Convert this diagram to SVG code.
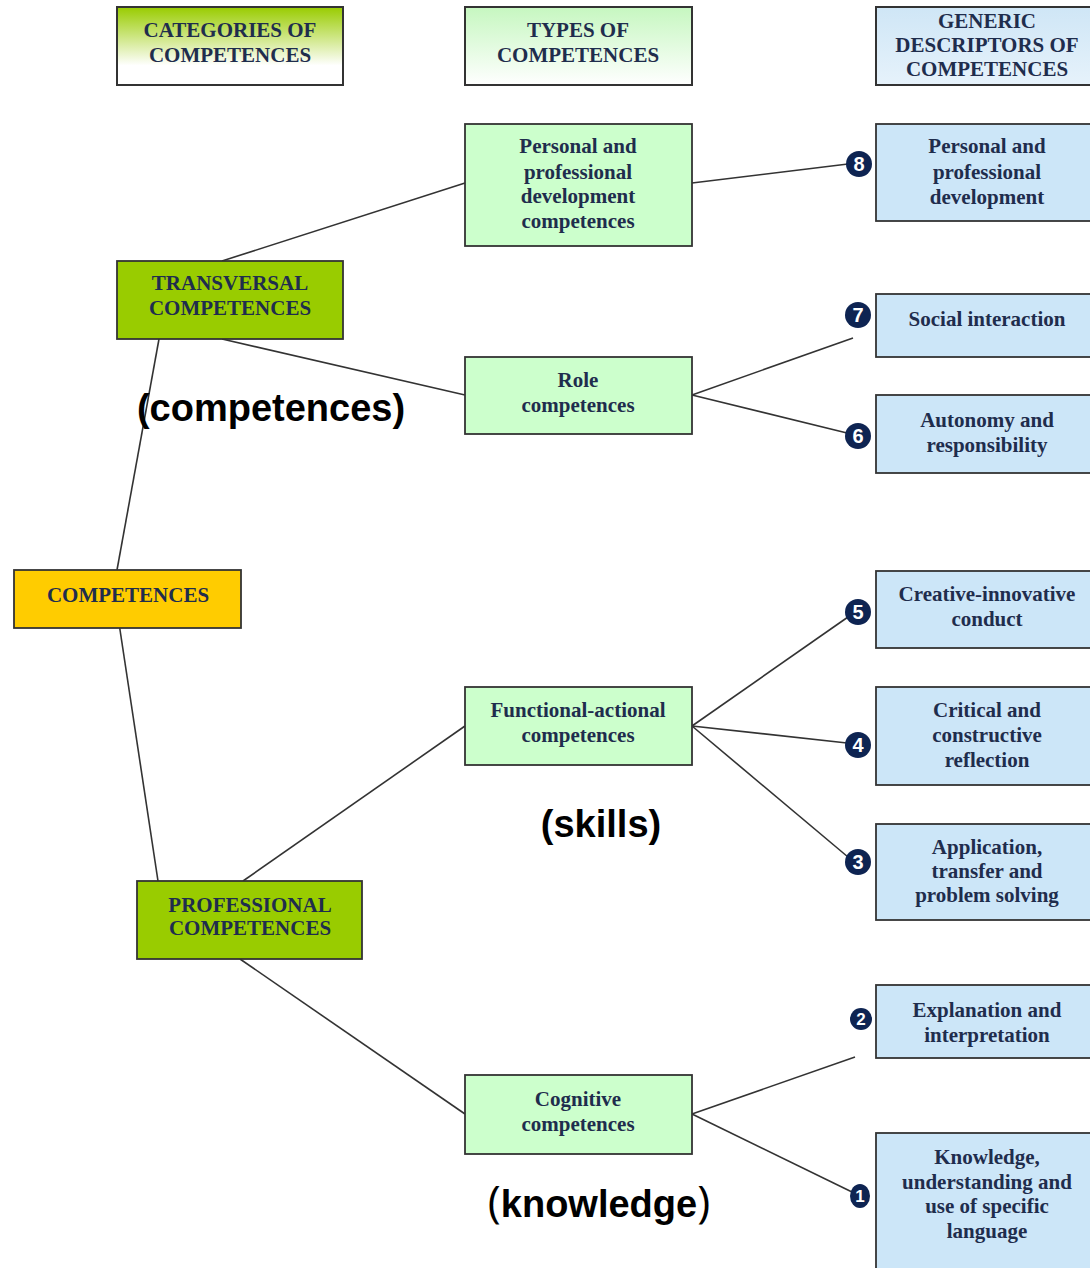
<svg xmlns="http://www.w3.org/2000/svg" width="1090" height="1268" viewBox="0 0 1090 1268">
<defs>
<linearGradient id="gCat" x1="0" y1="0" x2="0" y2="1">
<stop offset="0" stop-color="#99cc00"/><stop offset="0.75" stop-color="#ffffff"/><stop offset="1" stop-color="#ffffff"/>
</linearGradient>
<linearGradient id="gType" x1="0" y1="0" x2="0" y2="1">
<stop offset="0" stop-color="#c6f7c0"/><stop offset="1" stop-color="#ffffff"/>
</linearGradient>
<linearGradient id="gGen" x1="0" y1="0" x2="0" y2="1">
<stop offset="0" stop-color="#cfe6f6"/><stop offset="1" stop-color="#e6f2fb"/>
</linearGradient>
</defs>
<style>
.box{stroke:#333;stroke-width:1.8}
.hdr{stroke:#333;stroke-width:2}
.cat{fill:#99cc00}
.typ{fill:#ccffcc}
.gen{fill:#cce6f8}
.core{fill:#ffcc00}
text.t{font-family:"Liberation Serif","Times New Roman",serif;font-weight:bold;font-size:21px;fill:#1f2d4d;text-anchor:middle}
.con line{stroke:#333;stroke-width:1.6}
.num circle,.num ellipse{fill:#0e2452}
.num text{font-family:"Liberation Sans",Arial,sans-serif;font-weight:bold;font-size:20px;fill:#fff;text-anchor:middle}
text.big{font-family:"Liberation Sans",Arial,sans-serif;font-weight:bold;font-size:38px;fill:#000;text-anchor:middle}
</style>
<rect width="1090" height="1268" fill="#fff"/>

<g id="connectors" class="con">
<line x1="222" y1="261" x2="465" y2="183"/>
<line x1="222" y1="339" x2="465" y2="395"/>
<line x1="159" y1="339" x2="117" y2="570"/>
<line x1="117" y1="610" x2="158" y2="881"/>
<line x1="243" y1="881" x2="465" y2="726"/>
<line x1="240" y1="959" x2="465" y2="1114"/>
<line x1="692" y1="183" x2="848" y2="164"/>
<line x1="692" y1="395" x2="853" y2="338"/>
<line x1="692" y1="395" x2="847" y2="433"/>
<line x1="692" y1="726" x2="848" y2="617"/>
<line x1="692" y1="726" x2="847" y2="743"/>
<line x1="692" y1="726" x2="848" y2="857"/>
<line x1="692" y1="1114" x2="855" y2="1057"/>
<line x1="692" y1="1114" x2="852" y2="1192"/>
</g>

<g id="hdr-categories">
<rect class="hdr" x="117" y="7" width="226" height="78" fill="url(#gCat)"/>
<text class="t" x="230" y="37">CATEGORIES OF</text>
<text class="t" x="230" y="62">COMPETENCES</text>
</g>
<g id="hdr-types">
<rect class="hdr" x="465" y="7" width="227" height="78" fill="url(#gType)"/>
<text class="t" x="578" y="37">TYPES OF</text>
<text class="t" x="578" y="62">COMPETENCES</text>
</g>
<g id="hdr-generic">
<rect class="hdr" x="876" y="7" width="224" height="78" fill="url(#gGen)"/>
<text class="t" x="987" y="28">GENERIC</text>
<text class="t" x="987" y="52">DESCRIPTORS OF</text>
<text class="t" x="987" y="76">COMPETENCES</text>
</g>

<g id="transversal">
<rect class="box cat" x="117" y="261" width="226" height="78"/>
<text class="t" x="230" y="290">TRANSVERSAL</text>
<text class="t" x="230" y="315">COMPETENCES</text>
</g>
<g id="competences">
<rect class="box core" x="14" y="570" width="227" height="58"/>
<text class="t" x="128" y="602">COMPETENCES</text>
</g>
<g id="professional">
<rect class="box cat" x="137" y="881" width="225" height="78"/>
<text class="t" x="250" y="912">PROFESSIONAL</text>
<text class="t" x="250" y="935">COMPETENCES</text>
</g>

<g id="type-personal">
<rect class="box typ" x="465" y="124" width="227" height="122"/>
<text class="t" x="578" y="153">Personal and</text>
<text class="t" x="578" y="179">professional</text>
<text class="t" x="578" y="203">development</text>
<text class="t" x="578" y="228">competences</text>
</g>
<g id="type-role">
<rect class="box typ" x="465" y="357" width="227" height="77"/>
<text class="t" x="578" y="387">Role</text>
<text class="t" x="578" y="412">competences</text>
</g>
<g id="type-functional">
<rect class="box typ" x="465" y="687" width="227" height="78"/>
<text class="t" x="578" y="717">Functional-actional</text>
<text class="t" x="578" y="742">competences</text>
</g>
<g id="type-cognitive">
<rect class="box typ" x="465" y="1075" width="227" height="79"/>
<text class="t" x="578" y="1106">Cognitive</text>
<text class="t" x="578" y="1131">competences</text>
</g>

<g id="d8">
<rect class="box gen" x="876" y="124" width="224" height="97"/>
<text class="t" x="987" y="153">Personal and</text>
<text class="t" x="987" y="179">professional</text>
<text class="t" x="987" y="204">development</text>
</g>
<g id="d7">
<rect class="box gen" x="876" y="294" width="224" height="63"/>
<text class="t" x="987" y="326">Social interaction</text>
</g>
<g id="d6">
<rect class="box gen" x="876" y="395" width="224" height="78"/>
<text class="t" x="987" y="427">Autonomy and</text>
<text class="t" x="987" y="452">responsibility</text>
</g>
<g id="d5">
<rect class="box gen" x="876" y="571" width="224" height="77"/>
<text class="t" x="987" y="601">Creative-innovative</text>
<text class="t" x="987" y="626">conduct</text>
</g>
<g id="d4">
<rect class="box gen" x="876" y="687" width="224" height="98"/>
<text class="t" x="987" y="717">Critical and</text>
<text class="t" x="987" y="742">constructive</text>
<text class="t" x="987" y="767">reflection</text>
</g>
<g id="d3">
<rect class="box gen" x="876" y="824" width="224" height="96"/>
<text class="t" x="987" y="854">Application,</text>
<text class="t" x="987" y="878">transfer and</text>
<text class="t" x="987" y="902">problem solving</text>
</g>
<g id="d2">
<rect class="box gen" x="876" y="985" width="224" height="73"/>
<text class="t" x="987" y="1017">Explanation and</text>
<text class="t" x="987" y="1042">interpretation</text>
</g>
<g id="d1">
<rect class="box gen" x="876" y="1133" width="224" height="145"/>
<text class="t" x="987" y="1164">Knowledge,</text>
<text class="t" x="987" y="1189">understanding and</text>
<text class="t" x="987" y="1213">use of specific</text>
<text class="t" x="987" y="1238">language</text>
</g>

<g id="numbers" class="num">
<circle cx="859" cy="164" r="13"/><text x="859" y="171">8</text>
<circle cx="858" cy="315" r="13"/><text x="858" y="322">7</text>
<circle cx="858" cy="436" r="13"/><text x="858" y="443">6</text>
<circle cx="858" cy="612" r="13"/><text x="858" y="619">5</text>
<circle cx="858" cy="745" r="13"/><text x="858" y="752">4</text>
<circle cx="858" cy="862" r="13"/><text x="858" y="869">3</text>
<circle cx="861" cy="1019" r="11"/><text x="861" y="1025" style="font-size:17px">2</text>
<ellipse cx="860" cy="1196" rx="10" ry="12"/><text x="860" y="1202" style="font-size:17px">1</text>
</g>

<g id="labels">
<text class="big" x="271" y="421">(competences)</text>
<text class="big" x="601" y="837">(skills)</text>
<text class="big" x="599" y="1217"><tspan style="font-weight:normal;font-family:'Open Sans','DejaVu Sans',sans-serif;font-size:44px">(</tspan>knowledge<tspan style="font-weight:normal;font-family:'Open Sans','DejaVu Sans',sans-serif;font-size:44px">)</tspan></text>
</g>
</svg>
